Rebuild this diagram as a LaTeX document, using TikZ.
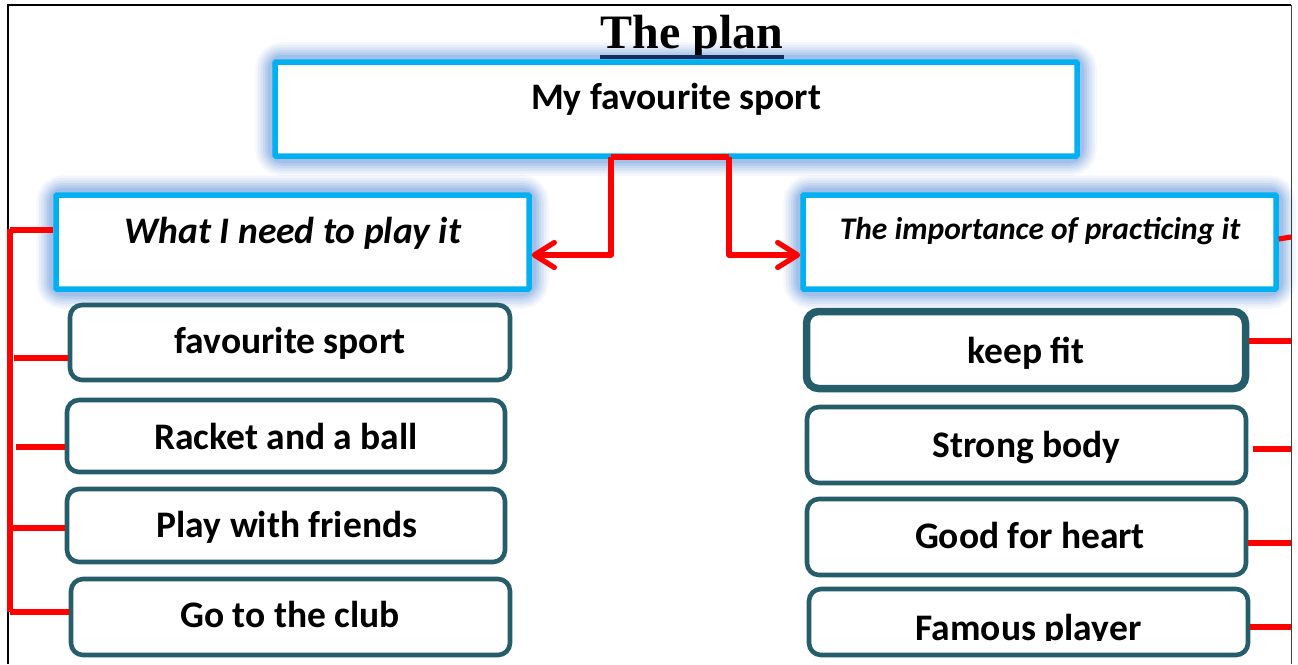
\documentclass[tikz,border=0pt]{standalone}
\usepackage{fontspec}
\setmainfont{Carlito}
\newfontfamily\titlefont{Liberation Serif}
\usetikzlibrary{arrows.meta,backgrounds}
\definecolor{cyanb}{RGB}{0,176,240}
\definecolor{glowb}{RGB}{120,165,225}
\definecolor{tealb}{RGB}{37,93,107}
\definecolor{navyb}{RGB}{20,45,90}
\definecolor{redl}{RGB}{255,0,0}
\tikzset{
  headbox/.style={draw=cyanb, line width=5.5pt, fill=white, inner sep=0pt, rounded corners=1pt},
  itembox/.style={draw=tealb, line width=4.6pt, fill=white, inner sep=0pt, rounded corners=12pt, minimum width=439pt},
  txt/.style={anchor=base, inner sep=0pt, font=\fontsize{37.5}{42}\selectfont\bfseries},
  redline/.style={draw=redl, line width=5.2pt},
  redarrow/.style={draw=redl, line width=5.2pt, line join=round, -{Straight Barb[length=20pt,width=25pt,line cap=round,line join=round]}},
  glowline/.style={draw=glowb, rounded corners=10pt}
}
\newcommand{\glowaround}[1]{%
  \begin{scope}[on background layer]
    \foreach \w/\o in {34/0.08,29/0.10,24/0.13,19/0.17,14/0.22,9/0.30}{
      \draw[glowline, line width=\w pt, opacity=\o] (#1.north west) rectangle (#1.south east);
    }
  \end{scope}}
\begin{document}
\begin{tikzpicture}[x=1pt,y=-1pt]
\useasboundingbox (0,0) rectangle (1298,664);
\begin{scope}[on background layer]
\fill[white] (0,0) rectangle (1298,664);
\end{scope}
% page frame
\draw[black, line width=2.5pt] (8,664) -- (8,5) -- (1291,5);
\draw[black!75, line width=1pt] (1291,5) -- (1291,664);

% title
\node[anchor=base, inner sep=0pt, font=\titlefont\bfseries\fontsize{48}{54}\selectfont] (title) at (692,48) {The plan};
\draw[navyb, line width=3.5pt] (title.base west) ++(0,9) coordinate (ulA) -- (title.base east |- ulA);

% header boxes
\node[headbox, minimum width=802pt, minimum height=94pt] (top) at (676,109) {};
\node[headbox, minimum width=473pt, minimum height=94pt] (L) at (292.5,242) {};
\node[headbox, minimum width=473pt, minimum height=94pt] (R) at (1039.5,242) {};
\glowaround{top}
\glowaround{L}
\glowaround{R}
\node[txt] (topt) at (676,109) {My favourite sport};
\node[txt, font=\fontsize{37.5}{42}\selectfont\bfseries\itshape] (Lt) at (293,243) {What I need to play it};
\node[txt, font=\fontsize{31.5}{36}\selectfont\bfseries\itshape] (Rt) at (1040,239) {The importance of practicing it};

% left item boxes
\node[itembox, minimum width=440pt, minimum height=75pt] (l1) at (290,342.5) {};
\node[itembox, minimum width=438pt, minimum height=72pt] (l2) at (286,436) {};
\node[itembox, minimum width=438pt, minimum height=73pt] (l3) at (286,525.5) {};
\node[itembox, minimum width=439pt, minimum height=76pt] (l4) at (290.5,617) {};
\node[txt] at (290,353) {favourite sport};
\node[txt] at (286,449) {Racket and a ball};
\node[txt] at (287,537) {Play with friends};
\node[txt] at (290,627) {Go to the club};

% right item boxes
\node[itembox, line width=7.5pt, minimum height=77pt] (r1) at (1026,350) {};
\node[itembox, minimum height=76pt] (r2) at (1026.5,445) {};
\node[itembox, minimum height=76pt] (r3) at (1026.5,537) {};
\node[itembox, minimum height=66pt] (r4) at (1028.5,622) {};
\node[txt] at (1026,363) {keep fit};
\node[txt] at (1026.5,457) {Strong body};
\node[txt] at (1030,548) {Good for heart};
\begin{scope}
  \clip (800,560) rectangle (1260,640);
  \node[txt] at (1028.5,640) {Famous player};
\end{scope}

% arrows from top box
\coordinate (ja) at (611,157);
\coordinate (jb) at (729,157);
\draw[redline, line join=round] (ja) -- (jb);
\draw[redarrow] (ja) -- (611,255) -- (L.east |- 0,255);
\draw[redarrow] (jb) -- (729,255) -- (R.west |- 0,255);

% left bracket
\coordinate (busT) at (10,229);
\coordinate (busB) at (10,612);
\draw[redline] (busT) -- (busB);
\draw[redline] (10,230) -- (L.west |- 0,230);
\draw[redline] (14,358) -- (l1.west |- 0,358);
\draw[redline] (16,447) -- (l2.west |- 0,447);
\draw[redline] (10,528) -- (l3.west |- 0,528);
\draw[redline] (10,612) -- (l4.west |- 0,612);

% right connectors
\coordinate (edge) at (1291,0);
\draw[redline] (R.east |- 0,239) -- (edge |- 0,237);
\draw[redline] (r1.east |- 0,341) -- (edge |- 0,341);
\draw[redline] (1253,449) -- (edge |- 0,449);
\draw[redline] (r3.east |- 0,543) -- (edge |- 0,543);
\draw[redline] (r4.east |- 0,627) -- (edge |- 0,627);
\end{tikzpicture}
\end{document}
